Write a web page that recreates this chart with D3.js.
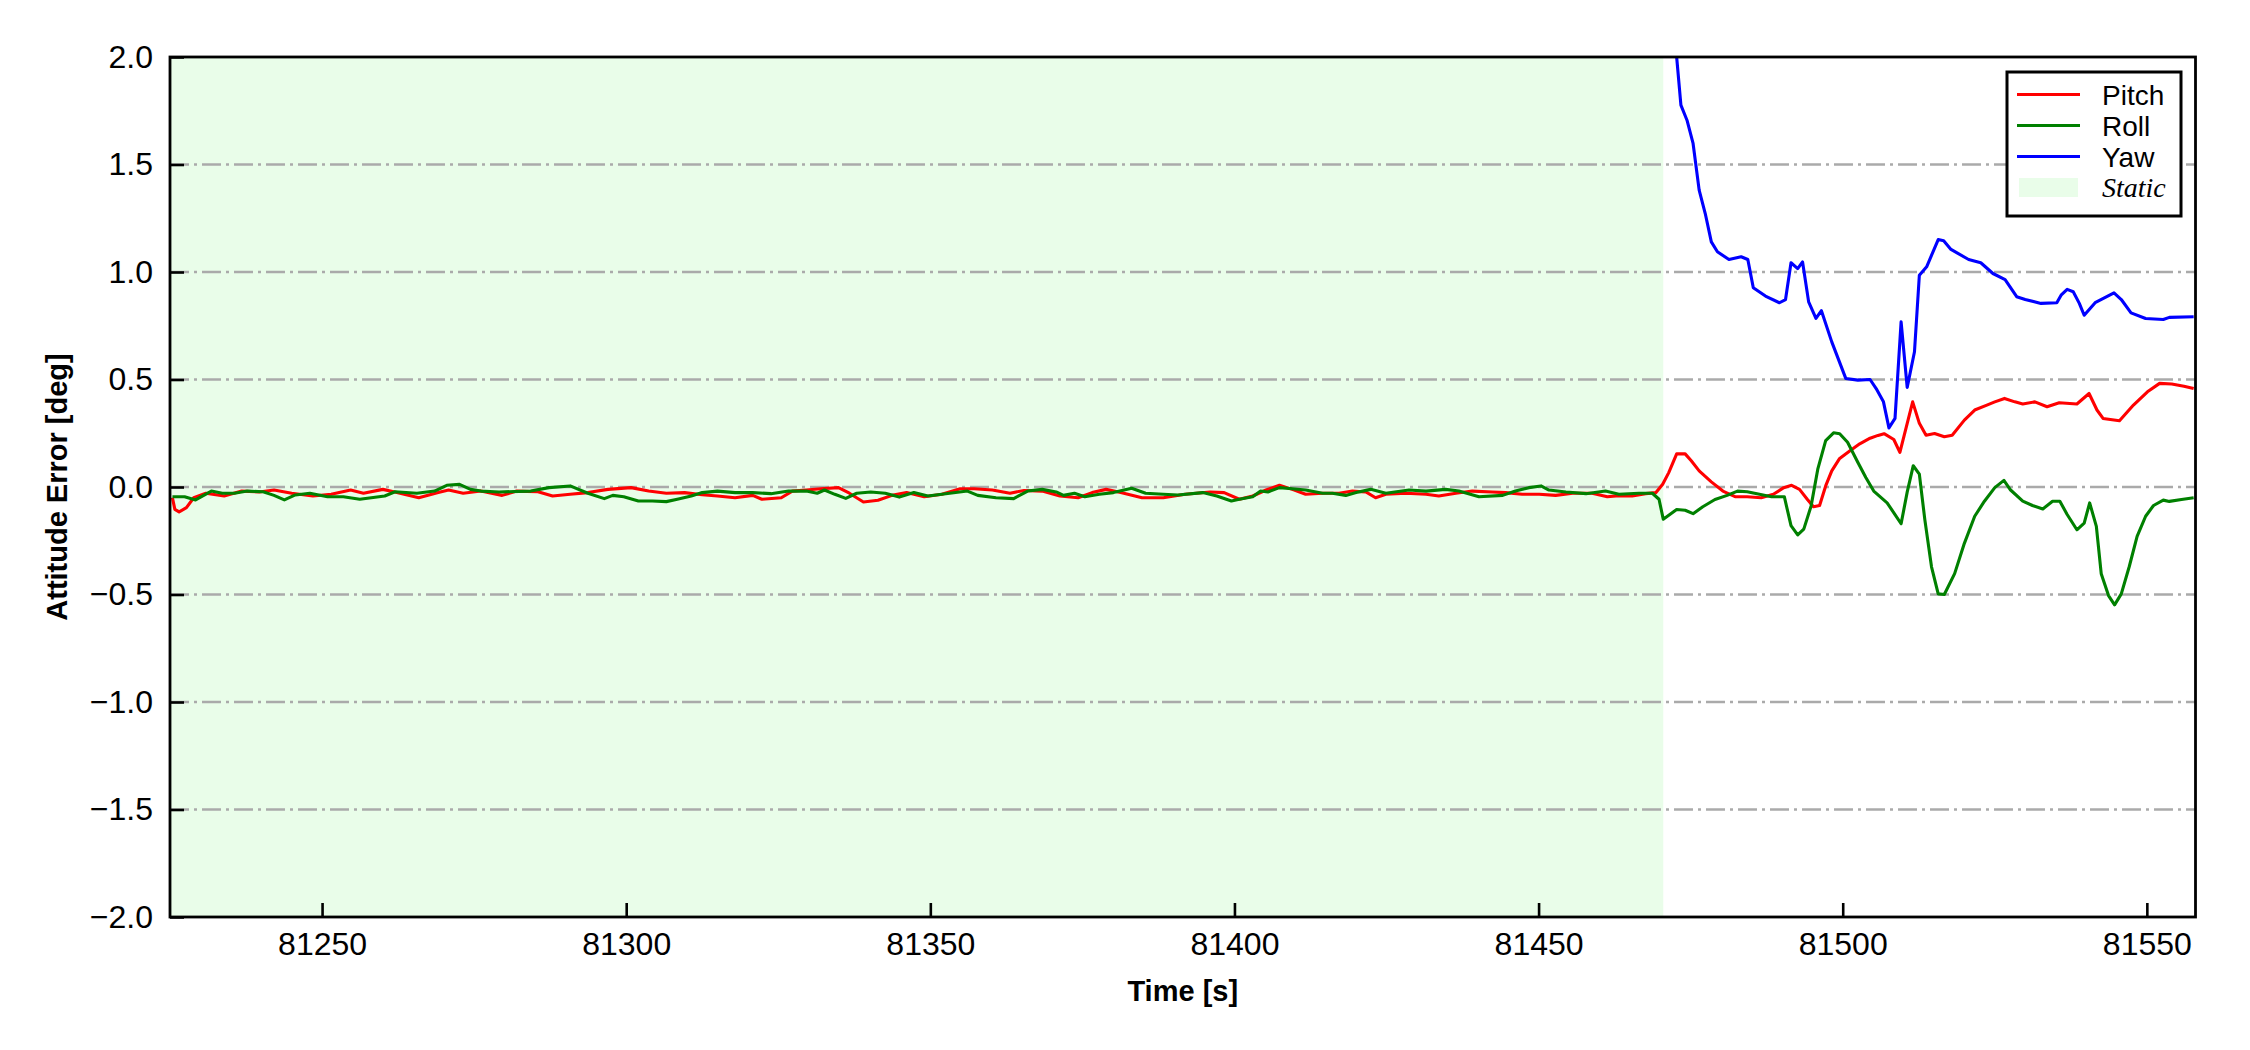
<!DOCTYPE html>
<html>
<head>
<meta charset="utf-8">
<script src="https://cdn.jsdelivr.net/npm/d3@7/dist/d3.min.js"></script>
<style>
  html, body { margin: 0; padding: 0; background: #fff; }
  svg { display: block; }
</style>
</head>
<body>
<svg id="chart" width="2250" height="1050"></svg>
<script>
// ---------------- DATA ----------------
const xTicks = [81250, 81300, 81350, 81400, 81450, 81500, 81550];
const yTicks = [-2.0, -1.5, -1.0, -0.5, 0.0, 0.5, 1.0, 1.5, 2.0];
const xDomain = [81225, 81558];
const yDomain = [-2, 2];
const staticSpan = [81225, 81470.5];
const seriesNames = ["Pitch", "Roll", "Yaw"];
const staticLabel = "Static";

const pitchData = [
[81225.4,-0.050],[81225.8,-0.104],[81226.5,-0.116],[81227.7,-0.096],[81228.9,-0.050],[81230.9,-0.029],
[81233.9,-0.042],[81236.8,-0.019],[81239.7,-0.023],[81242.1,-0.014],[81245.0,-0.029],[81248.5,-0.042],
[81251.5,-0.034],[81254.7,-0.014],[81256.8,-0.029],[81260.0,-0.011],[81262.3,-0.026],[81265.9,-0.050],
[81269.1,-0.026],[81270.8,-0.014],[81273.2,-0.029],[81276.1,-0.019],[81279.6,-0.039],[81282.0,-0.019],
[81285.5,-0.022],[81287.9,-0.042],[81290.8,-0.034],[81293.7,-0.026],[81297.0,-0.011],[81300.8,-0.003],
[81303.7,-0.019],[81306.6,-0.029],[81309.6,-0.026],[81312.5,-0.036],[81315.0,-0.042],[81317.9,-0.050],
[81320.8,-0.039],[81322.3,-0.057],[81325.5,-0.050],[81327.3,-0.019],[81329.6,-0.014],[81332.0,-0.008],
[81334.9,-0.003],[81336.7,-0.029],[81339.0,-0.070],[81341.4,-0.062],[81343.7,-0.039],[81346.1,-0.026],
[81349.0,-0.045],[81351.9,-0.034],[81354.9,-0.008],[81357.2,-0.008],[81360.2,-0.014],[81363.1,-0.029],
[81365.4,-0.016],[81368.4,-0.019],[81371.3,-0.042],[81374.3,-0.050],[81376.6,-0.026],[81378.9,-0.011],
[81381.3,-0.026],[81384.8,-0.050],[81388.3,-0.050],[81391.9,-0.034],[81396.0,-0.023],[81398.3,-0.026],
[81400.8,-0.057],[81403.0,-0.042],[81405.2,-0.014],[81407.4,0.008],[81409.5,-0.011],[81411.7,-0.034],
[81414.5,-0.029],[81417.2,-0.029],[81419.4,-0.019],[81421.6,-0.023],[81423.2,-0.050],[81424.9,-0.034],
[81428.2,-0.029],[81431.5,-0.034],[81433.6,-0.042],[81436.4,-0.029],[81439.1,-0.019],[81442.4,-0.023],
[81444.6,-0.026],[81447.3,-0.034],[81450.1,-0.034],[81452.8,-0.039],[81455.6,-0.029],[81458.8,-0.029],
[81461.3,-0.045],[81463.2,-0.040],[81465.4,-0.042],[81467.6,-0.031],[81469.3,-0.026],
[81470.4,0.013],[81471.4,0.067],[81472.7,0.154],[81474.1,0.154],[81475.1,0.122],[81476.4,0.075],
[81478.4,0.024],[81480.3,-0.019],[81482.3,-0.045],[81484.3,-0.045],[81486.6,-0.050],[81488.6,-0.034],
[81490.3,-0.003],[81491.6,0.008],[81492.9,-0.011],[81494.2,-0.058],[81495.2,-0.092],[81496.2,-0.086],
[81497.2,0.005],[81498.2,0.075],[81499.5,0.133],[81501.2,0.169],[81502.8,0.201],[81504.5,0.227],
[81505.8,0.240],[81506.8,0.248],[81508.4,0.221],[81509.4,0.161],[81511.5,0.396],[81512.6,0.296],
[81513.7,0.241],[81515.1,0.249],[81516.7,0.234],[81518.0,0.241],[81520.0,0.311],[81521.7,0.358],
[81523.7,0.381],[81525.0,0.396],[81526.6,0.412],[81528.3,0.396],[81529.6,0.386],[81531.6,0.396],
[81533.6,0.373],[81535.6,0.392],[81538.5,0.386],[81540.5,0.435],[81541.8,0.358],[81542.8,0.319],
[81545.5,0.308],[81547.8,0.381],[81550.1,0.443],[81552.1,0.482],[81554.1,0.479],[81556.1,0.469],
[81557.7,0.458]
];

const rollData = [
[81225.4,-0.045],[81227.4,-0.045],[81229.2,-0.060],[81231.8,-0.019],[81233.6,-0.029],[81235.6,-0.029],
[81237.7,-0.019],[81240.3,-0.022],[81242.1,-0.039],[81243.8,-0.060],[81245.6,-0.037],[81248.0,-0.029],
[81250.9,-0.045],[81253.5,-0.045],[81256.2,-0.057],[81260.3,-0.042],[81262.0,-0.022],[81265.6,-0.029],
[81268.5,-0.019],[81270.5,0.008],[81272.6,0.012],[81274.4,-0.011],[81276.1,-0.019],[81279.1,-0.023],
[81284.3,-0.019],[81287.3,-0.003],[81290.8,0.005],[81293.7,-0.029],[81296.4,-0.054],[81297.8,-0.039],
[81299.6,-0.045],[81302.0,-0.065],[81304.3,-0.065],[81306.6,-0.068],[81308.4,-0.057],[81310.7,-0.042],
[81312.5,-0.026],[81315.0,-0.019],[81317.9,-0.026],[81320.8,-0.026],[81323.8,-0.031],[81326.7,-0.019],
[81329.6,-0.019],[81331.4,-0.029],[81332.6,-0.014],[81334.3,-0.034],[81336.1,-0.053],[81337.9,-0.029],
[81340.2,-0.023],[81342.6,-0.029],[81344.9,-0.047],[81347.3,-0.026],[81349.6,-0.042],[81351.9,-0.034],
[81356.1,-0.019],[81357.8,-0.039],[81360.8,-0.050],[81363.7,-0.054],[81366.0,-0.019],[81368.4,-0.011],
[81370.7,-0.023],[81371.9,-0.039],[81373.7,-0.029],[81375.4,-0.045],[81377.8,-0.034],[81380.1,-0.026],
[81383.1,-0.006],[81385.4,-0.029],[81388.3,-0.034],[81390.7,-0.037],[81394.8,-0.026],[81397.1,-0.042],
[81399.5,-0.065],[81400.8,-0.057],[81403.0,-0.045],[81404.3,-0.019],[81405.5,-0.023],[81407.4,-0.003],
[81409.5,-0.008],[81411.7,-0.014],[81414.5,-0.029],[81416.1,-0.029],[81418.3,-0.039],[81420.0,-0.026],
[81422.4,-0.011],[81424.9,-0.029],[81428.7,-0.014],[81431.5,-0.019],[81434.7,-0.011],[81436.9,-0.019],
[81440.2,-0.045],[81444.1,-0.039],[81446.2,-0.019],[81448.4,-0.003],[81450.4,0.005],[81451.7,-0.014],
[81454.5,-0.023],[81457.8,-0.031],[81461.0,-0.019],[81463.2,-0.034],[81466.5,-0.029],[81468.7,-0.029],
[81469.8,-0.057],[81470.5,-0.150],[81472.7,-0.105],[81474.1,-0.108],[81475.4,-0.124],[81477.0,-0.092],
[81479.0,-0.058],[81481.0,-0.039],[81482.7,-0.019],[81484.3,-0.022],[81486.3,-0.034],[81488.3,-0.045],
[81490.4,-0.045],[81491.5,-0.180],[81492.6,-0.223],[81493.6,-0.196],[81494.8,-0.089],[81495.9,0.083],
[81497.2,0.216],[81498.5,0.252],[81499.5,0.248],[81500.8,0.208],[81502.5,0.114],[81503.8,0.044],
[81505.1,-0.019],[81507.3,-0.074],[81508.6,-0.128],[81509.6,-0.171],[81510.6,-0.024],[81511.6,0.099],
[81512.6,0.060],[81513.5,-0.152],[81514.6,-0.371],[81515.7,-0.497],[81516.7,-0.500],[81518.4,-0.403],
[81520.0,-0.262],[81521.7,-0.136],[81523.3,-0.066],[81525.0,-0.003],[81526.5,0.031],[81527.6,-0.014],
[81529.6,-0.066],[81531.2,-0.086],[81532.9,-0.102],[81534.5,-0.066],[81535.7,-0.066],[81536.9,-0.128],
[81538.5,-0.199],[81539.7,-0.168],[81540.6,-0.074],[81541.7,-0.183],[81542.5,-0.403],[81543.7,-0.505],
[81544.7,-0.548],[81545.8,-0.497],[81547.1,-0.371],[81548.4,-0.230],[81549.8,-0.136],[81551.1,-0.086],
[81552.7,-0.061],[81553.7,-0.067],[81555.7,-0.058],[81557.7,-0.050]
];

const yawData = [
[81471.6,3.200],[81472.7,2.000],[81473.4,1.776],[81474.4,1.706],[81475.4,1.598],[81476.4,1.381],
[81477.4,1.272],[81478.4,1.140],[81479.4,1.094],[81481.3,1.058],[81483.3,1.071],[81484.4,1.058],
[81485.3,0.927],[81487.3,0.888],[81489.6,0.857],[81490.6,0.872],[81491.5,1.043],[81492.6,1.016],
[81493.4,1.047],[81494.4,0.861],[81495.6,0.784],[81496.5,0.820],[81498.2,0.675],[81500.5,0.505],
[81502.5,0.497],[81504.5,0.500],[81505.5,0.458],[81506.7,0.396],[81507.6,0.275],[81508.6,0.319],
[81509.6,0.768],[81510.6,0.463],[81511.8,0.629],[81512.6,0.985],[81513.8,1.024],[81515.7,1.151],
[81516.6,1.145],[81517.8,1.105],[81520.7,1.058],[81522.7,1.043],[81524.7,0.993],[81526.7,0.965],
[81528.6,0.885],[81530.0,0.872],[81532.6,0.854],[81535.2,0.857],[81535.9,0.892],[81536.9,0.919],
[81537.9,0.908],[81538.9,0.854],[81539.7,0.799],[81541.5,0.857],[81544.6,0.903],[81545.8,0.872],
[81547.4,0.810],[81549.8,0.784],[81552.7,0.779],[81553.7,0.789],[81557.7,0.792]
];

const seriesColors = ["#ff0000", "#008000", "#0000ff"];
const staticColor = "#e9fde9";

// ---------------- LAYOUT ----------------
const svg = d3.select("#chart");
const L = 170, R = 2195.5, T = 57, B = 917;
const x = d3.scaleLinear().domain(xDomain).range([L, R]);
const y = d3.scaleLinear().domain(yDomain).range([B, T]);
const FONT = "'Liberation Sans', Arial, Helvetica, sans-serif";

svg.append("defs").append("clipPath").attr("id", "clip")
  .append("rect").attr("x", L).attr("y", T).attr("width", R - L).attr("height", B - T);

// static region
svg.append("rect")
  .attr("x", x(staticSpan[0])).attr("y", T)
  .attr("width", x(staticSpan[1]) - x(staticSpan[0])).attr("height", B - T)
  .attr("fill", staticColor);

// grid
svg.append("g").selectAll("line")
  .data(yTicks.filter(v => v > yDomain[0] && v < yDomain[1]))
  .join("line")
  .attr("x1", L).attr("x2", R)
  .attr("y1", d => y(d)).attr("y2", d => y(d))
  .attr("stroke", "#aaaaaa").attr("stroke-width", 2.6)
  .attr("stroke-dasharray", "19,5,3,5");

// series
const line = d3.line().x(d => x(d[0])).y(d => y(d[1]));
const allSeries = [pitchData, rollData, yawData];
const gLines = svg.append("g").attr("clip-path", "url(#clip)");
allSeries.forEach((data, i) => {
  gLines.append("path").datum(data)
    .attr("d", line)
    .attr("fill", "none")
    .attr("stroke", seriesColors[i])
    .attr("stroke-width", 3.1)
    .attr("stroke-linejoin", "round");
});

// axes
const fmtY = d => d3.format(".1f")(d).replace("-", "\u2212");
const xAxis = svg.append("g").attr("transform", `translate(0,${B})`)
  .call(d3.axisBottom(x).tickValues(xTicks).tickFormat(d3.format("d")).tickSize(-14).tickPadding(15));
const yAxis = svg.append("g").attr("transform", `translate(${L},0)`)
  .call(d3.axisLeft(y).tickValues(yTicks).tickFormat(fmtY).tickSize(-14).tickPadding(17));
[xAxis, yAxis].forEach(g => {
  g.select(".domain").remove();
  g.selectAll(".tick line").attr("stroke", "#000").attr("stroke-width", 2.6);
  g.selectAll(".tick text").attr("fill", "#000").style("font-family", FONT).style("font-size", "32px");
});

// frame
svg.append("rect").attr("x", L).attr("y", T).attr("width", R - L).attr("height", B - T)
  .attr("fill", "none").attr("stroke", "#000").attr("stroke-width", 2.8);

// axis labels
svg.append("text").attr("x", (L + R) / 2).attr("y", 1001)
  .attr("text-anchor", "middle").style("font-family", FONT).style("font-weight", "bold")
  .style("font-size", "29px").text("Time [s]");
svg.append("text").attr("transform", `translate(67,${(T + B) / 2}) rotate(-90)`)
  .attr("text-anchor", "middle").style("font-family", FONT).style("font-weight", "bold")
  .style("font-size", "29px").text("Attitude Error [deg]");

// legend
const lg = svg.append("g");
lg.append("rect").attr("x", 2007).attr("y", 72).attr("width", 174).attr("height", 144)
  .attr("fill", "#fff").attr("stroke", "#000").attr("stroke-width", 3);
const rowY = [94.5, 125.5, 156.5];
seriesNames.forEach((name, i) => {
  lg.append("line").attr("x1", 2017).attr("x2", 2080).attr("y1", rowY[i]).attr("y2", rowY[i])
    .attr("stroke", seriesColors[i]).attr("stroke-width", 3.1);
  lg.append("text").attr("x", 2102).attr("y", rowY[i] + 10.5)
    .style("font-family", FONT).style("font-size", "28px").text(name);
});
lg.append("rect").attr("x", 2019).attr("y", 178).attr("width", 59).attr("height", 19).attr("fill", staticColor);
lg.append("text").attr("x", 2102).attr("y", 197)
  .style("font-family", "'Liberation Serif', 'Times New Roman', serif").style("font-style", "italic")
  .style("font-size", "28px").text(staticLabel);
</script>
</body>
</html>
